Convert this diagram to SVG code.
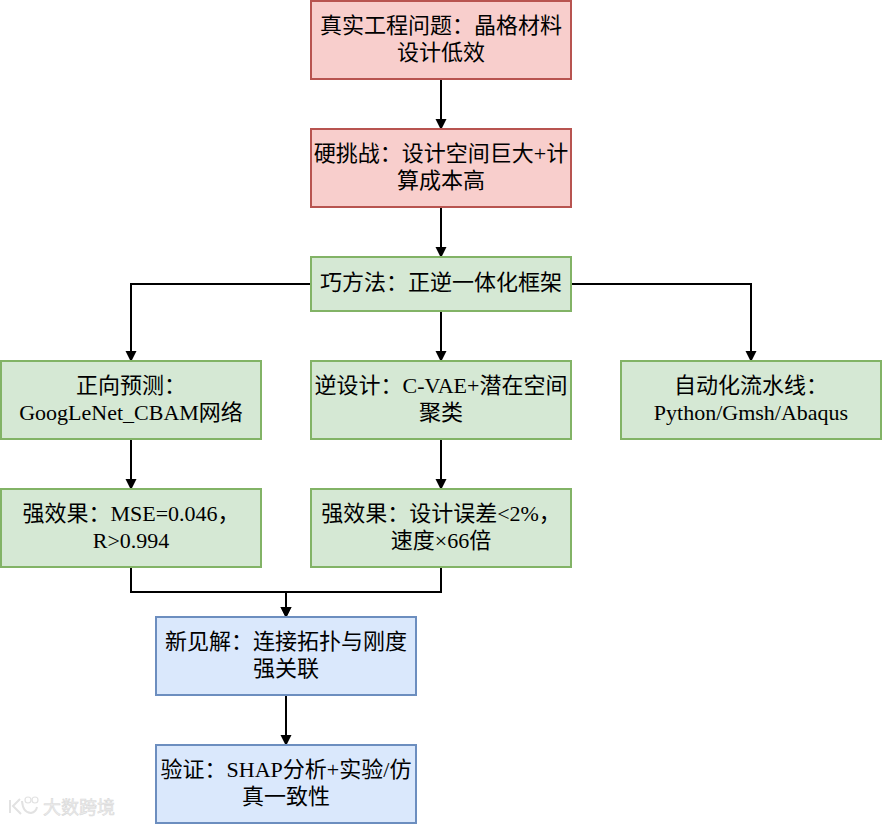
<svg xmlns="http://www.w3.org/2000/svg" width="882" height="824" viewBox="0 0 882 824">
<defs>
<marker id="arrow" markerUnits="userSpaceOnUse" markerWidth="12" markerHeight="12" refX="10" refY="5.5" orient="auto"><path d="M0 0L11 5.5L0 11Z" fill="#000"/></marker>
</defs>
<style>
text{font-family:"Liberation Serif","Noto Sans CJK SC",serif;font-size:22px;fill:#000;text-anchor:middle}
.red{fill:#f8cecc;stroke:#b85450;stroke-width:2}
.green{fill:#d5e8d4;stroke:#82b366;stroke-width:2}
.blue{fill:#dae8fc;stroke:#6c8ebf;stroke-width:2}
.edge{fill:none;stroke:#000;stroke-width:2;marker-end:url(#arrow)}
.wm{fill:#ececec;stroke:#d8d8d8;stroke-width:.5;font-family:"Noto Sans CJK SC",sans-serif;font-size:18px;text-anchor:start}
</style>
<rect width="882" height="824" fill="#fff"/>
<g id="connectors">
<path class="edge" d="M441 79V129"/>
<path class="edge" d="M441 207V257"/>
<path class="edge" d="M311 284H131V361"/>
<path class="edge" d="M441 311V361"/>
<path class="edge" d="M571 284H751V361"/>
<path class="edge" d="M131 439V489"/>
<path class="edge" d="M441 439V489"/>
<path class="edge" d="M131 567V592H286V617"/>
<path class="edge" d="M441 567V592H286V617"/>
<path class="edge" d="M286 695V745"/>
</g>
<g id="n1"><rect class="red" x="311" y="1" width="260" height="78"/><text x="441" y="33">真实工程问题：晶格材料</text><text x="441" y="60">设计低效</text></g>
<g id="n2"><rect class="red" x="311" y="129" width="260" height="78"/><text x="441" y="161">硬挑战：设计空间巨大+计</text><text x="441" y="188">算成本高</text></g>
<g id="n3"><rect class="green" x="311" y="257" width="260" height="54"/><text x="441" y="290">巧方法：正逆一体化框架</text></g>
<g id="n4"><rect class="green" x="1" y="361" width="260" height="78"/><text x="131" y="393">正向预测：</text><text x="131" y="420">GoogLeNet_CBAM网络</text></g>
<g id="n5"><rect class="green" x="311" y="361" width="260" height="78"/><text x="441" y="393">逆设计：C-VAE+潜在空间</text><text x="441" y="420">聚类</text></g>
<g id="n6"><rect class="green" x="621" y="361" width="260" height="78"/><text x="751" y="393">自动化流水线：</text><text x="751" y="420">Python/Gmsh/Abaqus</text></g>
<g id="n7"><rect class="green" x="1" y="489" width="260" height="78"/><text x="131" y="521">强效果：MSE=0.046，</text><text x="131" y="548">R&gt;0.994</text></g>
<g id="n8"><rect class="green" x="311" y="489" width="260" height="78"/><text x="441" y="521">强效果：设计误差&lt;2%，</text><text x="441" y="548">速度×66倍</text></g>
<g id="n9"><rect class="blue" x="156" y="617" width="260" height="78"/><text x="286" y="649">新见解：连接拓扑与刚度</text><text x="286" y="676">强关联</text></g>
<g id="n10"><rect class="blue" x="156" y="745" width="260" height="78"/><text x="286" y="777">验证：SHAP分析+实验/仿</text><text x="286" y="804">真一致性</text></g>
<g id="watermark">
<path d="M10 800V813M20 799L13 806L21 814M22 801Q23 813 31 813Q36 812 37 807" fill="none" stroke="#e2e2e2" stroke-width="2"/>
<circle cx="28" cy="800" r="3" fill="none" stroke="#e2e2e2" stroke-width="1.2"/>
<circle cx="35" cy="800" r="3" fill="none" stroke="#e2e2e2" stroke-width="1.2"/>
<text class="wm" x="43" y="814">大数跨境</text>
</g>
</svg>
